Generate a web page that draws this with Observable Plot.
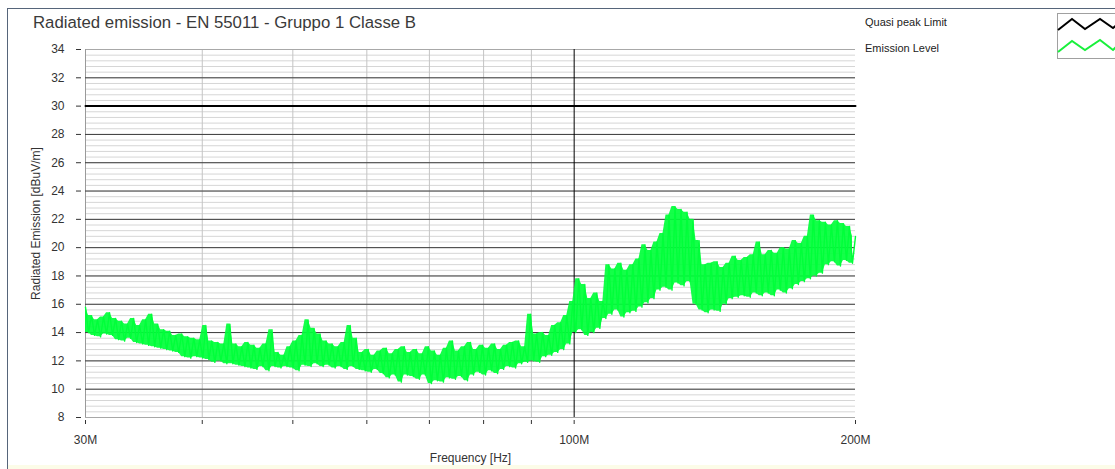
<!DOCTYPE html>
<html>
<head>
<meta charset="utf-8">
<script src="https://cdn.jsdelivr.net/npm/d3@7"></script>
<script src="https://cdn.jsdelivr.net/npm/@observablehq/plot@0.6"></script>
<style>
  html, body { margin: 0; padding: 0; background: #fff; }
  body { font-family: "Liberation Sans", Arial, sans-serif; }
  #wrap { position: relative; width: 1115px; height: 469px; overflow: hidden; background: #fff; }
  #frame { position: absolute; left: 7px; top: 8px; width: 1120px; height: 470px;
           border-left: 1px solid #56657a; border-top: 1px solid #56657a; box-sizing: border-box; }
  #strip { position: absolute; left: 8px; top: 465px; width: 1110px; height: 6px; background: #fcfce8; }
  #title { position: absolute; left: 33px; top: 15px; font-size: 16.8px; color: #3a3a3a; white-space: nowrap; line-height: 1; }
  #chart { position: absolute; left: 0; top: 0; }
  .leg { position: absolute; left: 865px; font-size: 11px; color: #222; white-space: nowrap; line-height: 1; }
  #legicon { position: absolute; left: 1057px; top: 13px; }
</style>
</head>
<body>
<div id="wrap">
  <div id="frame"></div>
  <div id="strip"></div>
  <div id="chart"></div>
  <div id="title">Radiated emission - EN 55011 - Gruppo 1 Classe B</div>
  <div class="leg" style="top:17px">Quasi peak Limit</div>
  <div class="leg" style="top:43px">Emission Level</div>
  <svg id="legicon" width="60" height="47">
    <rect x="0.5" y="0.5" width="64" height="45" fill="#fff" stroke="#a0a0a0"/>
    <polyline points="1,17 15,6 28,16 43,6 56,15 62,10" fill="none" stroke="#000" stroke-width="2"/>
    <polyline points="1,39 15,28 28,37 43,27 56,37 62,31" fill="none" stroke="#19f03c" stroke-width="2"/>
  </svg>
</div>
<script>
// ---- data ----
const sweepStartMHz = 30;
const sweepStopMHz = 200;

const emissionLevel = [
  15.8, 14.0, 15.2, 13.8, 14.9, 13.7, 15.1,
  13.9, 15.4, 13.8, 15.0,
  13.5, 14.8, 13.4, 14.6, 13.6, 15.0,
  13.3, 14.5, 13.2, 14.9, 13.1,
  15.3, 13.0, 14.6, 12.9, 14.2,
  12.8, 14.1, 12.7, 13.8, 12.6, 13.9,
  12.3, 13.7, 12.2, 13.6, 12.3, 13.5,
  12.2, 14.5, 12.1, 13.4,
  11.9, 13.3, 12.0, 13.2, 11.8, 14.6,
  11.8, 13.2, 11.7, 13.0, 11.6, 13.3, 11.5,
  13.1, 11.4, 12.9, 11.6, 13.2, 11.3, 14.2,
  11.6, 12.6, 11.5, 12.4, 11.6, 13.0,
  11.5, 13.4, 11.3, 13.8, 11.7,
  14.9, 11.6, 14.3, 11.8, 13.9,
  11.6, 13.4, 11.7, 13.2, 11.5, 13.0, 11.6, 13.3, 11.4,
  14.5, 11.6, 13.6,
  11.4, 12.6, 11.3, 12.8, 11.2, 12.4, 11.4, 12.7,
  11.1, 12.9, 10.8, 12.5, 11.0, 12.8,
  10.5, 13.0, 11.0, 12.6, 10.9, 12.8, 10.7, 12.5, 11.0, 13.0,
  10.4, 12.7, 10.6, 12.4, 10.5, 12.9, 10.8,
  13.4, 10.7, 12.7, 10.9, 13.0, 10.6,
  13.3, 11.0, 12.8, 11.2, 13.1, 11.0, 12.9, 11.3, 13.2, 11.1, 12.8,
  11.4, 13.1, 11.6, 13.3, 11.5, 13.4, 11.8, 13.0, 11.9,
  15.3,
  12.0, 13.9, 11.9, 14.0, 12.3, 13.8,
  12.4, 14.5, 12.6, 14.7, 12.8, 15.2,
  13.2, 16.2,
  14.0, 17.8, 14.2, 17.4,
  13.8, 16.4, 14.0, 16.8, 14.3, 16.2,
  15.0, 18.8, 15.3, 18.5, 15.6, 18.9, 15.1, 18.4,
  15.4, 18.8, 15.5, 19.2, 15.8,
  20.2, 16.1, 19.8, 16.4, 20.4,
  17.0, 21.0, 17.2, 22.3, 17.0,
  22.9, 17.5, 22.7, 17.3, 22.5, 17.6, 22.0,
  16.0, 20.5, 15.6,
  18.8, 15.4, 18.9, 15.6, 19.0, 15.5, 18.6, 16.0, 18.9,
  16.4, 19.4, 16.5, 19.1, 16.6, 19.3, 16.5, 19.5,
  16.8, 20.4,
  16.6, 19.5, 16.8, 19.8, 16.6, 19.6, 17.0, 20.0, 16.8, 19.9, 17.1,
  20.5, 17.4, 20.3, 17.6, 20.8,
  17.8, 22.3, 18.0, 21.9, 18.2,
  21.8, 18.8, 21.6, 19.0, 21.9, 18.7, 21.7, 19.1, 21.5, 18.9, 20.8
];

// Quasi peak limit
const limitFreqMHz = [30, 200];
const limitLevel = [30, 30];

// Axis ticks
const yTicks = [8, 10, 12, 14, 16, 18, 20, 22, 24, 26, 28, 30, 32, 34];
const xTicks = [30, 40, 50, 60, 70, 80, 90, 100, 200];
const xTickLabels = ["30M", "", "", "", "", "", "", "100M", "200M"];
const xMinorGrid = [40, 50, 60, 70, 80, 90];
const yMajorGrid = [10, 12, 14, 16, 18, 20, 22, 24, 26, 28, 32];
const yMinorStep = 0.4;
const yLabel = "Radiated Emission [dBuV/m]";

// ---- build tables ----
const n = emissionLevel.length;
const emission = emissionLevel.map((v, i) => ({
  f: sweepStartMHz * Math.pow(sweepStopMHz / sweepStartMHz, i / (n - 1)),
  v
}));
// band between each pair of consecutive sweep points (fills the dense trace)
const band = emission.slice(0, -1).map((d, i) => ({
  f: d.f,
  lo: Math.min(d.v, emission[i + 1].v),
  hi: Math.max(d.v, emission[i + 1].v)
}));
const limit = limitFreqMHz.map((f, i) => ({f, v: limitLevel[i]}));
const yMinorGrid = d3.range(8, 34.0001, yMinorStep);
const xLabelOf = new Map(xTicks.map((t, i) => [t, xTickLabels[i]]));

const green = "#00ff3a";

const chart = Plot.plot({
  width: 1115,
  height: 469,
  marginLeft: 85,
  marginRight: 260,
  marginTop: 49,
  marginBottom: 52,
  style: {fontFamily: "'Liberation Sans', Arial, sans-serif", fontSize: "12px", color: "#333", background: "transparent", overflow: "visible"},
  x: {type: "log", domain: [sweepStartMHz, sweepStopMHz]},
  y: {domain: [8, 34]},
  marks: [
    Plot.ruleY(yMinorGrid, {stroke: "#d6d6d6", strokeWidth: 1}),
    Plot.ruleX(xMinorGrid, {stroke: "#c4c4c4", strokeWidth: 1}),
    Plot.ruleY([8, 34], {stroke: "#a8a8a8", strokeWidth: 1}),
    Plot.ruleX([30], {stroke: "#9a9a9a", strokeWidth: 1}),
    Plot.ruleY(yMajorGrid, {stroke: "#3c3c3c", strokeWidth: 1}),
    Plot.ruleX([100], {stroke: "#000", strokeWidth: 1}),
    Plot.areaY(band, {x: "f", y1: "lo", y2: "hi", fill: green, fillOpacity: 0.92}),
    Plot.line(emission, {x: "f", y: "v", stroke: green, strokeWidth: 1.4}),
    Plot.line(limit, {x: "f", y: "v", stroke: "#000", strokeWidth: 2}),
    Plot.axisY({
      ticks: yTicks, tickSize: 5, dx: -4, tickPadding: 12, fontSize: 12, label: null
    }),
    Plot.text([yLabel], {
      frameAnchor: "left", rotate: -90, dx: -49, dy: -10,
      textAnchor: "middle", lineAnchor: "middle", fontSize: 12, fill: "#333"
    }),
    Plot.axisX({
      ticks: xTicks, tickFormat: d => xLabelOf.get(d) ?? "", tickSize: 4, dy: 3, tickPadding: 11, fontSize: 12,
      label: "Frequency [Hz]", labelAnchor: "center", labelOffset: 44, labelArrow: "none"
    })
  ]
});
document.getElementById("chart").appendChild(chart);
</script>
</body>
</html>
